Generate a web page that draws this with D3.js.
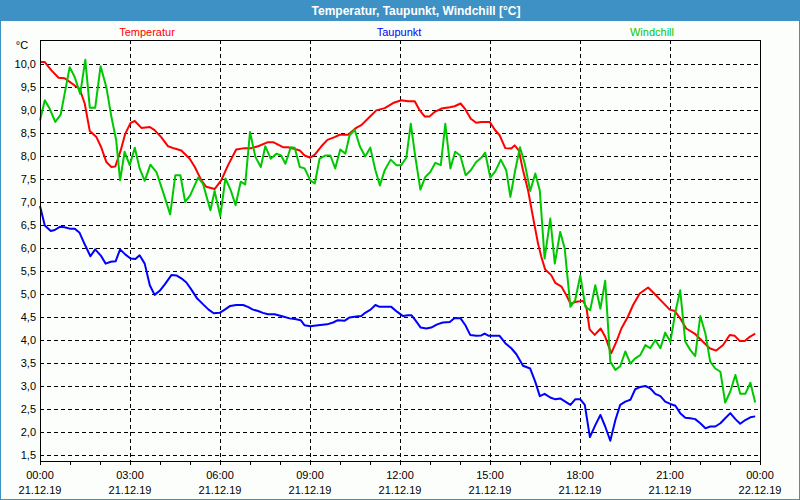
<!doctype html>
<html lang="de">
<head>
<meta charset="utf-8">
<style>
  body { margin: 0; background: #fff; }
  svg text { font-family: "Liberation Sans", Arial, sans-serif; }
</style>
</head>
<body>
<script src="https://cdnjs.cloudflare.com/ajax/libs/d3/7.8.5/d3.min.js"></script>
<script>
// Data (hours since 21.12.19 00:00, °C)
var temperatur = [[0,10.05],[0.16,10.05],[0.38,9.87],[0.62,9.71],[0.82,9.70],[0.99,9.62],[1.16,9.54],[1.32,9.47],[1.49,9.15],[1.66,8.55],[1.88,8.42],[2.04,8.20],[2.21,7.88],[2.38,7.77],[2.51,7.78],[2.69,8.13],[2.84,8.49],[3.02,8.73],[3.16,8.77],[3.38,8.62],[3.66,8.64],[3.82,8.57],[4.04,8.42],[4.27,8.22],[4.49,8.17],[4.71,8.13],[4.99,7.95],[5.16,7.77],[5.38,7.48],[5.54,7.34],[5.82,7.29],[6.04,7.48],[6.27,7.81],[6.54,8.15],[6.82,8.18],[7.04,8.18],[7.27,8.22],[7.6,8.31],[7.77,8.31],[8.1,8.20],[8.27,8.20],[8.43,8.17],[8.66,8.13],[8.82,8.02],[9.01,7.97],[9.16,8.04],[9.38,8.22],[9.58,8.36],[9.82,8.42],[9.99,8.47],[10.27,8.47],[10.54,8.62],[10.71,8.68],[10.96,8.84],[11.21,9.00],[11.49,9.05],[11.77,9.16],[12.04,9.22],[12.27,9.20],[12.49,9.20],[12.66,9.00],[12.82,8.87],[12.99,8.87],[13.16,8.97],[13.38,9.04],[13.66,9.07],[13.82,9.09],[14.02,9.15],[14.16,9.04],[14.36,8.82],[14.54,8.73],[14.71,8.75],[14.99,8.75],[15.16,8.58],[15.32,8.46],[15.51,8.18],[15.71,8.17],[15.82,8.24],[15.96,8.13],[16.1,7.70],[16.27,7.26],[16.43,6.69],[16.6,6.11],[16.71,5.82],[16.84,5.54],[17.04,5.42],[17.18,5.25],[17.38,5.17],[17.54,4.99],[17.68,4.80],[17.88,4.84],[18.1,4.86],[18.21,4.73],[18.32,4.24],[18.49,4.12],[18.69,4.26],[18.84,4.08],[19.04,3.72],[19.21,3.97],[19.38,4.26],[19.6,4.52],[19.77,4.77],[19.99,5.02],[20.27,5.15],[20.49,5.01],[20.71,4.86],[20.99,4.67],[21.16,4.64],[21.38,4.44],[21.54,4.26],[21.82,4.15],[22.1,3.97],[22.32,3.83],[22.54,3.78],[22.77,3.90],[22.99,4.12],[23.16,4.10],[23.32,3.99],[23.49,3.99],[23.66,4.08],[23.84,4.15]];

var taupunkt = [[0,6.92],[0.16,6.50],[0.36,6.38],[0.49,6.40],[0.66,6.47],[0.82,6.46],[0.99,6.43],[1.16,6.43],[1.32,6.34],[1.49,6.09],[1.68,5.83],[1.84,5.98],[2.02,5.85],[2.19,5.67],[2.36,5.71],[2.52,5.72],[2.67,5.98],[2.84,5.87],[3.02,5.78],[3.18,5.77],[3.32,5.85],[3.49,5.67],[3.66,5.20],[3.82,4.99],[3.99,5.08],[4.16,5.22],[4.38,5.42],[4.56,5.41],[4.71,5.35],[4.88,5.26],[5.04,5.11],[5.24,4.91],[5.43,4.79],[5.62,4.67],[5.79,4.59],[5.99,4.60],[6.16,4.67],[6.34,4.75],[6.54,4.77],[6.77,4.77],[6.93,4.73],[7.1,4.67],[7.27,4.64],[7.43,4.60],[7.6,4.57],[7.82,4.57],[8.1,4.52],[8.32,4.48],[8.54,4.46],[8.69,4.44],[8.82,4.33],[9.01,4.31],[9.27,4.33],[9.57,4.35],[9.77,4.39],[9.93,4.44],[10.16,4.43],[10.32,4.50],[10.54,4.52],[10.71,4.53],[10.84,4.60],[11.02,4.67],[11.18,4.77],[11.32,4.73],[11.51,4.73],[11.71,4.73],[11.91,4.62],[12.1,4.53],[12.27,4.55],[12.38,4.55],[12.51,4.44],[12.69,4.28],[12.88,4.26],[13.04,4.28],[13.24,4.35],[13.43,4.39],[13.66,4.40],[13.82,4.49],[14.02,4.48],[14.18,4.33],[14.34,4.12],[14.54,4.10],[14.71,4.11],[14.82,4.15],[14.96,4.10],[15.16,4.10],[15.32,4.10],[15.51,3.94],[15.71,3.83],[15.88,3.70],[16.1,3.45],[16.34,3.39],[16.51,3.10],[16.66,2.79],[16.82,2.84],[17.01,2.76],[17.18,2.72],[17.34,2.74],[17.51,2.67],[17.68,2.60],[17.84,2.72],[18.01,2.72],[18.16,2.60],[18.33,1.90],[18.51,2.16],[18.68,2.38],[18.84,2.13],[19.01,1.82],[19.18,2.27],[19.34,2.60],[19.51,2.67],[19.68,2.71],[19.84,2.94],[20.01,2.99],[20.18,3.01],[20.34,2.96],[20.51,2.84],[20.68,2.79],[20.84,2.67],[21.01,2.62],[21.18,2.58],[21.34,2.42],[21.51,2.32],[21.68,2.31],[21.84,2.29],[22.01,2.20],[22.18,2.09],[22.34,2.13],[22.51,2.13],[22.68,2.20],[22.84,2.31],[23.01,2.42],[23.18,2.29],[23.34,2.19],[23.51,2.27],[23.68,2.33],[23.84,2.35]];

var windchill = [[0,8.78],[0.16,9.22],[0.32,9.04],[0.51,8.75],[0.69,8.91],[0.82,9.36],[0.99,9.94],[1.16,9.72],[1.34,9.36],[1.51,10.10],[1.66,9.06],[1.84,9.06],[2.02,9.96],[2.21,9.51],[2.38,8.86],[2.54,8.35],[2.67,7.48],[2.82,8.10],[2.99,7.81],[3.16,8.19],[3.32,7.74],[3.49,7.47],[3.68,7.82],[3.88,7.66],[4.1,7.23],[4.34,6.74],[4.51,7.59],[4.68,7.59],[4.84,7.01],[5.01,7.16],[5.27,7.54],[5.43,7.41],[5.68,6.83],[5.82,7.25],[6.01,6.70],[6.18,7.52],[6.36,7.26],[6.52,6.94],[6.69,7.45],[6.84,7.39],[7.0,8.53],[7.18,7.99],[7.36,7.77],[7.51,8.22],[7.69,7.95],[7.88,8.06],[8.04,8.02],[8.18,7.84],[8.36,8.20],[8.49,8.19],[8.66,7.77],[8.82,7.74],[9.01,7.48],[9.16,7.41],[9.32,7.95],[9.52,8.02],[9.68,8.02],[9.84,7.74],[10.01,8.15],[10.18,8.06],[10.32,8.46],[10.49,8.58],[10.66,8.22],[10.84,8.00],[11.01,8.19],[11.18,7.70],[11.33,7.37],[11.49,7.70],[11.69,7.93],[11.88,7.81],[12.04,7.81],[12.21,7.97],[12.36,8.71],[12.51,7.99],[12.68,7.28],[12.84,7.55],[13.01,7.66],[13.18,7.86],[13.36,7.81],[13.51,8.71],[13.68,7.74],[13.84,8.10],[14.01,8.02],[14.19,7.59],[14.36,7.70],[14.54,7.88],[14.71,7.97],[14.84,8.08],[15.01,7.54],[15.18,7.68],[15.36,7.93],[15.54,7.70],[15.68,7.12],[15.84,7.70],[16.0,8.20],[16.16,7.84],[16.34,7.25],[16.51,7.63],[16.66,7.26],[16.82,5.78],[17.01,6.65],[17.16,5.67],[17.34,6.36],[17.49,6.00],[17.68,4.73],[17.84,4.88],[18.01,5.41],[18.18,4.73],[18.34,4.66],[18.51,5.20],[18.68,4.69],[18.84,5.30],[19.01,3.54],[19.18,3.36],[19.34,3.44],[19.51,3.76],[19.68,3.50],[19.84,3.61],[20.01,3.68],[20.18,3.90],[20.34,3.83],[20.51,4.01],[20.68,3.83],[20.84,4.17],[21.01,3.97],[21.18,4.62],[21.34,5.09],[21.51,3.97],[21.68,3.79],[21.84,3.66],[22.01,4.53],[22.18,4.15],[22.34,3.54],[22.51,3.39],[22.68,3.32],[22.84,2.65],[23.01,2.89],[23.18,3.25],[23.34,2.84],[23.51,2.84],[23.68,3.08],[23.84,2.65]];

var yTicks = d3.range(1.5, 10.01, 0.5);
var xTickHours = [0, 3, 6, 9, 12, 15, 18, 21, 24];
var xTickTimes = ["00:00", "03:00", "06:00", "09:00", "12:00", "15:00", "18:00", "21:00", "00:00"];
var xTickDates = ["21.12.19", "21.12.19", "21.12.19", "21.12.19", "21.12.19", "21.12.19", "21.12.19", "21.12.19", "22.12.19"];

var series = [
  {name: "Temperatur", data: temperatur, color: "#ff0000", lx: 147},
  {name: "Taupunkt", data: taupunkt, color: "#0000ff", lx: 399},
  {name: "Windchill", data: windchill, color: "#00c800", lx: 652}
];

// Layout
var width = 800, height = 500;
var pLeft = 40, pRight = 760, pTop = 40, pBottom = 461;
var frameBlue = "#3d91c5";

var svg = d3.select("body").append("svg")
  .attr("width", width)
  .attr("height", height);

svg.append("rect").attr("width", width).attr("height", height).attr("fill", "#fcfefc");

// Title bar + outer border
svg.append("rect").attr("x", 0).attr("y", 0).attr("width", width).attr("height", 21).attr("fill", frameBlue);
svg.append("rect").attr("x", 0.5).attr("y", 0.5).attr("width", width - 1).attr("height", height - 1)
  .attr("fill", "none").attr("stroke", frameBlue);
svg.append("text")
  .attr("x", 416).attr("y", 15)
  .attr("text-anchor", "middle")
  .attr("fill", "#ffffff")
  .style("font-weight", "bold").style("font-size", "12px")
  .text("Temperatur, Taupunkt, Windchill [°C]");

// Scales
var x = d3.scaleLinear().domain([0, 24]).range([pLeft, pRight]);
var y = d3.scaleLinear().domain([1.38, 10.53]).range([pBottom, pTop]);
var fmt = function(v) { return d3.format(".1f")(v).replace(".", ","); };

// Grid
var grid = svg.append("g").attr("stroke", "#000").attr("stroke-dasharray", "4,3").attr("shape-rendering", "crispEdges");
grid.selectAll("line.h").data(yTicks).enter().append("line")
  .attr("class", "h")
  .attr("x1", pLeft).attr("x2", pRight)
  .attr("y1", function(d) { return Math.round(y(d)) + 0.5; })
  .attr("y2", function(d) { return Math.round(y(d)) + 0.5; });
grid.selectAll("line.v").data(xTickHours.slice(1, -1)).enter().append("line")
  .attr("class", "v")
  .attr("y1", pTop).attr("y2", pBottom)
  .attr("x1", function(d) { return Math.round(x(d)) + 0.5; })
  .attr("x2", function(d) { return Math.round(x(d)) + 0.5; });

// Y axis labels
svg.append("g").selectAll("text").data(yTicks).enter().append("text")
  .attr("x", 36).attr("y", function(d) { return y(d) + 4; })
  .attr("text-anchor", "end")
  .style("font-size", "11px").attr("fill", "#000")
  .text(fmt);
svg.append("text").attr("x", 22).attr("y", 49).attr("text-anchor", "middle")
  .style("font-size", "11px").text("°C");

// X axis: hourly ticks + labels
var xAxis = d3.axisBottom(x).tickValues(d3.range(0, 25, 1)).tickSize(3).tickFormat("");
svg.append("g").attr("transform", "translate(0," + (pBottom + 0.5) + ")").call(xAxis)
  .call(function(g) { g.select(".domain").remove(); })
  .selectAll("line").attr("shape-rendering", "crispEdges");

var xl = svg.append("g").selectAll("g").data(xTickHours).enter().append("g")
  .attr("transform", function(d) { return "translate(" + x(d) + ",0)"; });
xl.append("text").attr("y", 479).attr("text-anchor", "middle").style("font-size", "11px")
  .text(function(d, i) { return xTickTimes[i]; });
xl.append("text").attr("y", 494).attr("text-anchor", "middle").style("font-size", "11px")
  .text(function(d, i) { return xTickDates[i]; });

// Lines
var line = d3.line()
  .x(function(d) { return x(d[0]); })
  .y(function(d) { return y(d[1]); });

// draw order: Taupunkt, Temperatur, Windchill
[series[1], series[0], series[2]].forEach(function(s) {
  svg.append("path")
    .datum(s.data)
    .attr("d", line)
    .attr("fill", "none")
    .attr("stroke", s.color)
    .attr("stroke-width", 2)
    .attr("stroke-linejoin", "round");
});

// Legend
svg.append("g").selectAll("text").data(series).enter().append("text")
  .attr("x", function(d) { return d.lx; })
  .attr("y", 36)
  .attr("text-anchor", "middle")
  .style("font-size", "11px")
  .attr("fill", function(d) { return d.color; })
  .text(function(d) { return d.name; });

// Frame
svg.append("rect")
  .attr("x", pLeft + 0.5).attr("y", pTop + 0.5)
  .attr("width", pRight - pLeft).attr("height", pBottom - pTop)
  .attr("fill", "none").attr("stroke", "#000").attr("shape-rendering", "crispEdges");
</script>
</body>
</html>
